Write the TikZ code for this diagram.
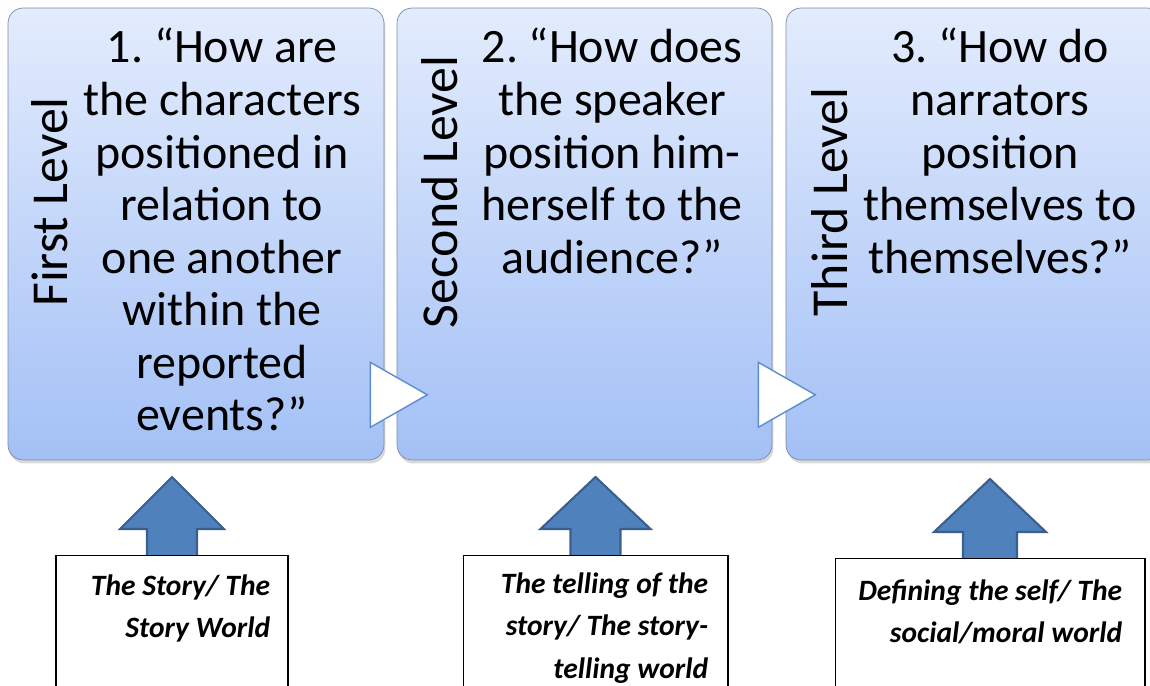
\documentclass[tikz,border=0pt]{standalone}
\usepackage{fontspec}
\setmainfont{Carlito}
\usepackage{tikz}
\usetikzlibrary{calc}
\usetikzlibrary{shadows}
\frenchspacing

\definecolor{boxtop}{HTML}{E3ECFD}
\definecolor{boxbottom}{HTML}{A3C0F6}
\definecolor{boxline}{HTML}{7A8AA5}
\definecolor{arrowblue}{HTML}{4F81BD}
\definecolor{arrowline}{HTML}{3A5F8F}
\definecolor{triline}{HTML}{5B8DD0}

\begin{document}
\begin{tikzpicture}[x=0.02cm,y=-0.02cm,
    levelbox/.style={draw=boxline,rounded corners=0.3cm,top color=boxtop,bottom color=boxbottom,
        minimum height=9.04cm,drop shadow={opacity=0.3,shadow xshift=0.03cm,shadow yshift=-0.07cm}},
    levellabel/.style={rotate=90,inner sep=0,font=\fontsize{29.5}{32}\selectfont},
    question/.style={anchor=north,inner sep=0,align=center,font=\fontsize{27.3}{29.9}\selectfont},
    worldbox/.style={draw,fill=white,anchor=north,minimum height=3cm,line width=0.6pt},
    worldtext/.style={anchor=north east,inner sep=0,align=right,font=\fontsize{16.8}{24.2}\selectfont\bfseries\itshape},
    uparrow/.style={draw=arrowline,fill=arrowblue,line width=1.2pt,line join=miter},
    steptri/.style={draw=triline,fill=white,line width=0.8pt}]
    \useasboundingbox (0,0) rectangle (1150,686);

    % the three levels
    \node[levelbox,minimum width=7.52cm] (first) at (196,234) {};
    \node[levelbox,minimum width=7.5cm] (second) at (584.5,234) {};
    \node[levelbox,minimum width=7.52cm] (third) at (974,234) {};

    \node[levellabel] (firstlabel) at (50,202) {First Level};
    \node[levellabel] (secondlabel) at (440,192) {Second Level};
    \node[levellabel] (thirdlabel) at (830,202) {Third Level};

    \node[question] (firstq) at (222,28) {1. “How are\\the characters\\positioned in\\relation to\\one another\\within the\\reported\\events?”};
    \node[question] (secondq) at (612,28) {2. “How does\\the speaker\\position him-\\herself to the\\audience?”};
    \node[question] (thirdq) at (1000,28) {3. “How do\\narrators\\position\\themselves to\\themselves?”};

    % triangles between the boxes
    \draw[steptri] ($(first.south east)+(-14,-98)$) -- ++(0,65) -- ++(57,-32.5) -- cycle;
    \draw[steptri] ($(second.south east)+(-14,-98)$) -- ++(0,65) -- ++(57,-32.5) -- cycle;

    % the worlds below
    \coordinate (storytop) at (172,555);
    \coordinate (tellingtop) at (595.5,555);
    \coordinate (selftop) at (990,558);

    \draw[uparrow] ($(storytop)+(-25,12)$) -- ++(0,-38) -- ++(-27,0) -- ++(52,-52) -- ++(52,52) -- ++(-27,0) -- ++(0,38) -- cycle;
    \draw[uparrow] ($(tellingtop)+(-25,12)$) -- ++(0,-38) -- ++(-30,0) -- ++(55,-52) -- ++(55,52) -- ++(-30,0) -- ++(0,38) -- cycle;
    \draw[uparrow] ($(selftop)+(-27,12)$) -- ++(0,-38) -- ++(-29,0) -- ++(56,-53) -- ++(56,53) -- ++(-29,0) -- ++(0,38) -- cycle;

    \node[worldbox,minimum width=4.64cm] (storybox) at (storytop) {};
    \node[worldbox,minimum width=5.3cm] (tellingbox) at (tellingtop) {};
    \node[worldbox,minimum width=6.2cm] (selfbox) at (selftop) {};

    \node[worldtext] (storytext) at ($(storybox.north east)+(-18,19)$) {The Story/ The\\Story World};
    \node[worldtext] (tellingtext) at ($(tellingbox.north east)+(-20,17)$) {The telling of the\\story/ The story-\\telling world};
    \node[worldtext] (selftext) at ($(selfbox.north east)+(-23,21)$) {Defining the self/ The\\social/moral world};
\end{tikzpicture}
\end{document}
